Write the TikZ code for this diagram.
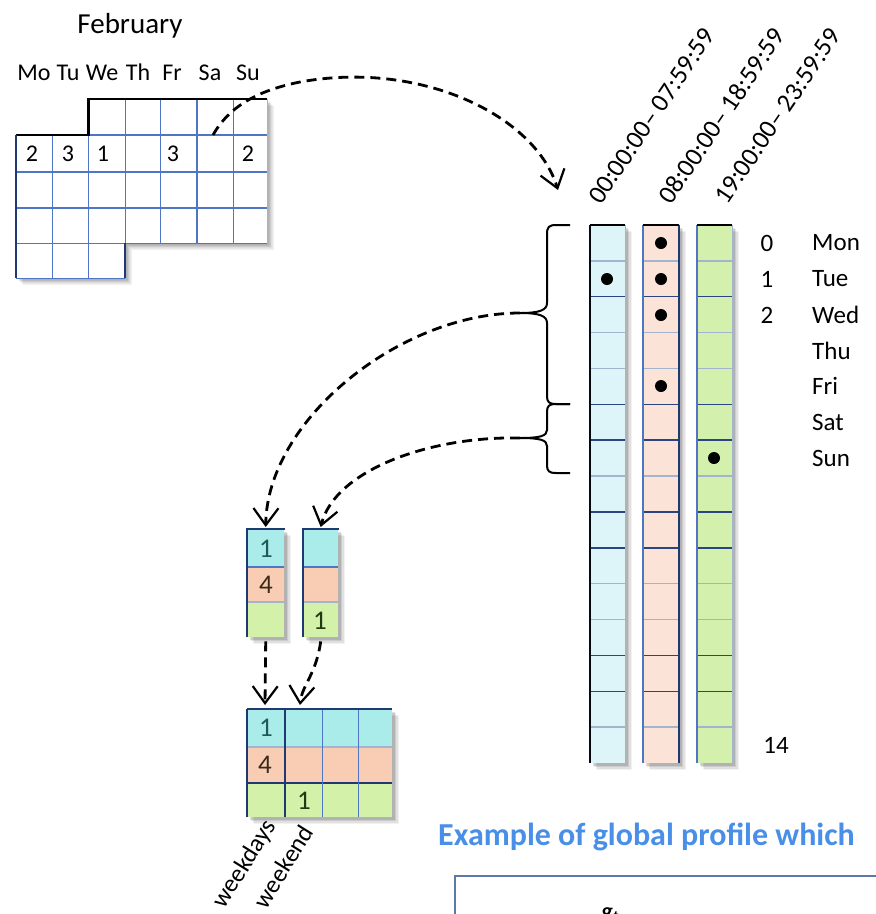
\documentclass[tikz,border=0pt]{standalone}
\usepackage{fontspec}
\setmainfont{Carlito}
\usetikzlibrary{arrows.meta,calc}
\definecolor{cyanA}{HTML}{A9ECEA}
\definecolor{salA}{HTML}{F8CDB4}
\definecolor{grnA}{HTML}{D4F1A9}
\definecolor{cyanT}{HTML}{DDF5F8}
\definecolor{salT}{HTML}{FCE3D7}
\definecolor{grnT}{HTML}{D3F0AD}
\definecolor{gridb}{HTML}{4F76C4}
\definecolor{gridl}{HTML}{A3B4CF}
\definecolor{navy}{HTML}{1F3A73}
\definecolor{titleblue}{HTML}{4A8FE7}
\definecolor{boxb}{HTML}{5B7BA6}
\definecolor{tealtxt}{HTML}{1E5A5A}
\definecolor{browntxt}{HTML}{3A2818}
\definecolor{grntxt}{HTML}{1F3A12}
\newcommand\myshadow[4]{%
  \foreach \d/\o in {7/0.05,5.5/0.07,4/0.09,2.5/0.12}{%
    \fill[black,opacity=\o] (#1+\d,#2+\d) rectangle (#3+\d,#4+\d);}}
\tikzset{
  lab/.style={inner sep=0pt,font=\fontsize{25}{30}\selectfont},
  calnum/.style={inner sep=0pt,font=\fontsize{24}{28}\selectfont},
  bignum/.style={inner sep=0pt,font=\fontsize{27}{30}\selectfont},
  tlab/.style={inner sep=0pt,font=\fontsize{26}{30}\selectfont,rotate=56,anchor=base west},
  dashedarrow/.style={line width=2.8pt,dash pattern=on 10pt off 6pt,
    -{Straight Barb[length=17pt,width=25pt,line width=2.2pt]}},
  bracepath/.style={line width=2pt,line join=round},
  dot/.style={circle,fill=black,inner sep=0pt,minimum size=12pt},
}
\begin{document}
\begin{tikzpicture}[x=1pt,y=-1pt]
\useasboundingbox (0,0) rectangle (876,914);
\fill[white] (0,0) rectangle (876,914);

% ---------------- calendar ----------------
\def\Xa{16}\def\Xb{52.5}\def\Xc{88.5}\def\Xd{125}\def\Xe{160}\def\Xf{197}\def\Xg{233}\def\Xh{267}
\def\Ya{99}\def\Yb{135}\def\Yc{172}\def\Yd{208}\def\Ye{243}\def\Yf{278}
\foreach \d/\o in {7/0.05,5.5/0.07,4/0.09,2.5/0.12}{
  \fill[black,opacity=\o,shift={(\d,\d)}] (\Xa,\Yb) -- (\Xc,\Yb) -- (\Xc,\Ya) -- (\Xh,\Ya) -- (\Xh,\Ye) -- (\Xd,\Ye) -- (\Xd,\Yf) -- (\Xa,\Yf) -- cycle;}
\fill[white] (\Xa,\Yb) -- (\Xc,\Yb) -- (\Xc,\Ya) -- (\Xh,\Ya) -- (\Xh,\Ye) -- (\Xd,\Ye) -- (\Xd,\Yf) -- (\Xa,\Yf) -- cycle;
\begin{scope}[gridb,line width=1pt]
  \draw[line width=1.4pt] (\Xa,\Yb) -- (\Xh,\Yb);
  \draw[line width=1.4pt] (\Xa,\Yc) -- (\Xh,\Yc);
  \draw[line width=1.4pt] (\Xa,\Yd) -- (\Xh,\Yd);
  \draw (\Xa,\Ye) -- (\Xh,\Ye);
  \draw (\Xa,\Yf) -- (\Xd,\Yf);
  \draw (\Xb,\Yb) -- (\Xb,\Yf);
  \draw (\Xc,\Yb) -- (\Xc,\Yf);
  \draw (\Xd,\Ya) -- (\Xd,\Yf);
  \draw[navy,line width=1.8pt] (\Xd,\Ye) -- (\Xd,\Yf);
  \draw (\Xe,\Ya) -- (\Xe,\Ye);
  \draw[line width=2pt] (\Xf,\Ya) -- (\Xf,\Ye);
  \draw (\Xg,\Ya) -- (\Xg,\Ye);
  \draw[gridl] (\Xh,\Ya) -- (\Xh,\Ye);
\end{scope}
\draw[black,line width=2.4pt] (\Xa,\Yb) -- (\Xc,\Yb) -- (\Xc,\Ya) -- (\Xh,\Ya);
\draw[navy,line width=2.8pt] (\Xa,\Yb) -- (\Xa,\Yf);
\node[inner sep=0pt,font=\fontsize{29}{32}\selectfont,anchor=base] (feb) at (130,33) {February};
\foreach \t/\x in {Mo/34,Tu/68,We/102,Th/138,Fr/172,Sa/210,Su/248}
  \node[calnum,anchor=base] (d\t) at (\x,80) {\t};
\foreach \t/\x [count=\k] in {2/32,3/68,1/103,3/173,2/248}
  \node[calnum] (n\k) at (\x,154) {\t};
\coordinate (calstart) at (213,135);

% ---------------- tall columns ----------------
\myshadow{590}{225}{625}{763}
\myshadow{643}{225}{679}{763}
\myshadow{697}{225}{732}{763}
\node[fill=cyanT,inner sep=0pt,minimum width=35pt,minimum height=538pt,anchor=north west] (t1) at (590,225) {};
\node[fill=salT,inner sep=0pt,minimum width=36pt,minimum height=538pt,anchor=north west] (t2) at (643,225) {};
\node[fill=grnT,inner sep=0pt,minimum width=35pt,minimum height=538pt,anchor=north west] (t3) at (697,225) {};
\foreach \cx/\w in {590/35,643/36,697/35}{
  \foreach \i in {1,3,4,7,10,11,14}
    \draw[gridl,line width=1.3pt] (\cx,225+\i*35.867) -- (\cx+\w,225+\i*35.867);
  \foreach \i in {2,5,6,8,9,12,13}
    \draw[navy!80!gridb,line width=1.5pt] (\cx,225+\i*35.867) -- (\cx+\w,225+\i*35.867);
}
\draw[black!85!navy,line width=1.6pt] (590,225) -- (590,763);
\draw[gridl,line width=1pt] (625,225) -- (625,763);
\draw[gridb,line width=1.2pt] (643,225) -- (643,763);
\draw[navy,line width=2pt] (679,225) -- (679,763);
\draw[gridb,line width=1.2pt] (697,225) -- (697,763);
\draw[gridl,line width=1pt] (732,225) -- (732,763);
\foreach \cx/\w in {590/35,643/36,697/35}
  \draw[black,line width=2.8pt] (\cx,225) -- (\cx+\w,225);
\node[dot] (p1) at (607,279) {};
\node[dot] (p2) at (661,243) {};
\node[dot] (p3) at (661,279) {};
\node[dot] (p4) at (661,315) {};
\node[dot] (p5) at (661,386) {};
\node[dot] (p6) at (714,458) {};
\foreach \t/\y [count=\k] in {0/243,1/279,2/315}
  \node[lab] (r\k) at (767,\y) {\t};
\node[lab] (r14) at (776,745) {14};
\foreach \t/\y in {Mon/243,Tue/279,Wed/315,Thu/351,Fri/386,Sat/422,Sun/458}
  \node[lab,anchor=west] (w\t) at (812,\y) {\t};
\node[tlab] (h1) at (601,206) {00:00:00– 07:59:59};
\node[tlab] (h2) at (671,206) {08:00:00– 18:59:59};
\node[tlab] (h3) at (727,206) {19:00:00– 23:59:59};
\coordinate (colstop) at (558,190);

% ---------------- braces ----------------
\draw[bracepath] (570,225) -- (556,225) .. controls (549,225) and (547,227) .. (547,234) -- (547,303)
  .. controls (547,310) and (540,313) .. (520,313) .. controls (540,313) and (547,316) .. (547,323)
  -- (547,396) .. controls (547,402) and (549,404) .. (556,404) -- (570,404);
\draw[bracepath] (570,404) -- (556,404) .. controls (549,404) and (547,406) .. (547,412) -- (547,430)
  .. controls (547,436) and (540,438) .. (520,438) .. controls (540,438) and (547,440) .. (547,446)
  -- (547,465) .. controls (547,471) and (549,473) .. (556,473) -- (570,473);
\coordinate (b1) at (520,313);
\coordinate (b2) at (520,438);

% ---------------- small columns ----------------
\myshadow{247}{529}{284}{637}
\myshadow{303}{529}{338}{637}
\node[inner sep=0pt,minimum width=37pt,minimum height=108pt,anchor=north west] (sA) at (247,529) {};
\node[inner sep=0pt,minimum width=35pt,minimum height=108pt,anchor=north west] (sB) at (303,529) {};
\foreach \cx/\w in {247/37,303/35}{
  \fill[cyanA] (\cx,529) rectangle (\cx+\w,567);
  \fill[salA] (\cx,567) rectangle (\cx+\w,602);
  \fill[grnA] (\cx,602) rectangle (\cx+\w,637);
  \draw[gridb,line width=1.2pt] (\cx,567) -- (\cx+\w,567);
  \draw[gridl,line width=1.2pt] (\cx,602) -- (\cx+\w,602);
  \draw[navy,line width=2.4pt] (\cx-1,529) -- (\cx+\w+1,529);
}
\draw[navy,line width=2.6pt] (247,529) -- (247,637);
\draw[navy,line width=1.4pt] (303,529) -- (303,637);
\node[bignum,text=tealtxt] (sa1) at (266,549) {1};
\node[bignum,text=browntxt] (sa4) at (266,585) {4};
\node[bignum,text=grntxt] (sb1) at (320,621) {1};

% ---------------- table ----------------
\myshadow{247}{709}{392}{817}
\node[inner sep=0pt,minimum width=145pt,minimum height=108pt,anchor=north west] (tbl) at (247,709) {};
\fill[cyanA] (247,709) rectangle (392,747);
\fill[salA] (247,747) rectangle (392,783);
\fill[grnA] (247,783) rectangle (392,817);
\draw[gridl,line width=1.2pt] (247,747) -- (392,747);
\draw[navy,line width=1.5pt] (247,783) -- (392,783);
\draw[gridb,line width=1pt] (322,709) -- (322,817);
\draw[gridb,line width=1pt] (358,709) -- (358,817);
\draw[navy,line width=2pt] (285,709) -- (285,817);
\draw[navy,line width=2.6pt] (247,709) -- (392,709);
\draw[navy,line width=2.8pt] (247,709) -- (247,817);
\node[bignum,text=tealtxt] (ta1) at (266,728) {1};
\node[bignum,text=browntxt] (ta4) at (265,765) {4};
\node[bignum,text=grntxt] (tb1) at (304,801) {1};
\node[inner sep=0pt,font=\fontsize{25}{28}\selectfont,rotate=58,anchor=base east] (wd) at (277,826) {weekdays};
\node[inner sep=0pt,font=\fontsize{25}{28}\selectfont,rotate=58,anchor=base east] (we) at (315,832) {weekend};

% ---------------- arrows ----------------
\draw[dashedarrow] (calstart) .. controls (230,105) and (260,90) .. (300,82)
  .. controls (420,60) and (535,115) .. (colstop);
\draw[dashedarrow] (b1) .. controls (400,313) and (267,420) .. ($(sA.north)+(0,-2)$);
\draw[dashedarrow] (b2) .. controls (430,436) and (335,470) .. ($(sB.north)+(0,-2)$);
\draw[dashedarrow] ($(sA.south)+(0,4)$) -- ($(tbl.north west)+(18,-4)$);
\draw[dashedarrow] ($(sB.south)+(0,4)$) .. controls (316,675) and (302,685) .. ($(tbl.north west)+(53,-4)$);

% ---------------- bottom right ----------------
\node[inner sep=0pt,font=\fontsize{32}{36}\selectfont\bfseries,text=titleblue,anchor=base west] (ex) at (438,845) {Example of global profile which};
\draw[boxb,line width=1.6pt] (876+10,876) -- (455,876) -- (455,914+10);
\node[inner sep=0pt,font=\fontsize{22}{26}\selectfont\bfseries\itshape,anchor=base] (gt) at (610,918) {g\textsubscript{t}};
\end{tikzpicture}
\end{document}
